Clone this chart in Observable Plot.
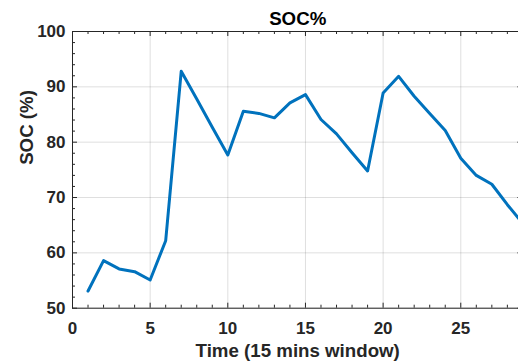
<!DOCTYPE html>
<html>
<head>
<meta charset="utf-8">
<script src="https://cdn.jsdelivr.net/npm/d3@7"></script>
<script src="https://cdn.jsdelivr.net/npm/@observablehq/plot@0.6"></script>
<style>
  html, body { margin: 0; padding: 0; background: #fff; overflow: hidden; }
  #chart svg { overflow: hidden; }
</style>
</head>
<body>
<div id="chart"></div>
<script>
// Time step (15-minute windows)
const time = [1, 2, 3, 4, 5, 6, 7, 8, 9, 10, 11, 12, 13, 14, 15, 16, 17, 18, 19, 20, 21, 22, 23, 24, 25, 26, 27, 28, 29];
// State of charge (%)
const soc = [53.1, 58.6, 57.1, 56.6, 55.1, 62.2, 92.8, 87.8, 82.7, 77.7, 85.6, 85.2, 84.4, 87.1, 88.6, 84.1, 81.5, 78.1, 74.8, 88.9, 91.9, 88.3, 85.2, 82.1, 77.1, 74.0, 72.4, 68.7, 65.3];

const xMajor = [0, 5, 10, 15, 20, 25];
const xMinor = d3.range(0, 30, 1).filter(v => v % 5 !== 0);
const yMajor = [50, 60, 70, 80, 90, 100];
const yMinor = d3.range(50, 101, 2).filter(v => v % 10 !== 0);

const titleText = "SOC%";
const xLabel = "Time (15 mins window)";
const yLabel = "SOC (%)";

const data = time.map((t, i) => ({t, v: soc[i]}));

const W = 518, H = 362;
const mL = 72, mT = 31, mB = 54.3, mR = -4.4;
const fw = W - mL - mR, fh = H - mT - mB;
const ink = "#262626";
const font = "'Liberation Sans', Arial, Helvetica, sans-serif";

const chart = Plot.plot({
  width: W,
  height: H,
  marginLeft: mL,
  marginTop: mT,
  marginBottom: mB,
  marginRight: mR,
  style: {fontFamily: font, color: ink, background: "#fff"},
  x: {domain: [0, 29], axis: null},
  y: {domain: [50, 100], axis: null},
  marks: [
    Plot.gridX(xMajor, {stroke: ink, strokeOpacity: 0.15, strokeWidth: 1}),
    Plot.gridY(yMajor, {stroke: ink, strokeOpacity: 0.15, strokeWidth: 1}),
    // inward ticks: bottom & top
    Plot.tickX(xMajor, {x: d => d, stroke: ink, insetTop: fh - 5}),
    Plot.tickX(xMajor, {x: d => d, stroke: ink, insetBottom: fh - 5}),
    Plot.tickX(xMinor, {x: d => d, stroke: ink, insetTop: fh - 3}),
    Plot.tickX(xMinor, {x: d => d, stroke: ink, insetBottom: fh - 3}),
    // inward ticks: left & right
    Plot.tickY(yMajor, {y: d => d, stroke: ink, insetRight: fw - 5}),
    Plot.tickY(yMajor, {y: d => d, stroke: ink, insetLeft: fw - 5}),
    Plot.tickY(yMinor, {y: d => d, stroke: ink, insetRight: fw - 3}),
    Plot.tickY(yMinor, {y: d => d, stroke: ink, insetLeft: fw - 3}),
    Plot.line(data, {x: "t", y: "v", stroke: "#0072BD", strokeWidth: 3, clip: true}),
    Plot.frame({stroke: ink, strokeWidth: 1}),
    Plot.axisX(xMajor, {anchor: "bottom", label: null, tickSize: 0, tickPadding: 14, fontSize: 17, fontWeight: "bold", fill: ink}),
    Plot.axisY(yMajor, {anchor: "left", label: null, tickSize: 0, tickPadding: 7, fontSize: 17, fontWeight: "bold", fill: ink}),
    Plot.text([titleText], {frameAnchor: "top", dy: -7, lineAnchor: "bottom", fontSize: 18.7, fontWeight: "bold", fill: "#000"}),
    Plot.text([xLabel], {frameAnchor: "bottom", dy: 49, lineAnchor: "bottom", fontSize: 18.7, fontWeight: "bold", fill: ink}),
    Plot.text([yLabel], {frameAnchor: "left", dx: -40, dy: -5, rotate: -90, lineAnchor: "bottom", fontSize: 18.7, fontWeight: "bold", fill: ink})
  ]
});
document.getElementById("chart").appendChild(chart);
</script>
</body>
</html>
